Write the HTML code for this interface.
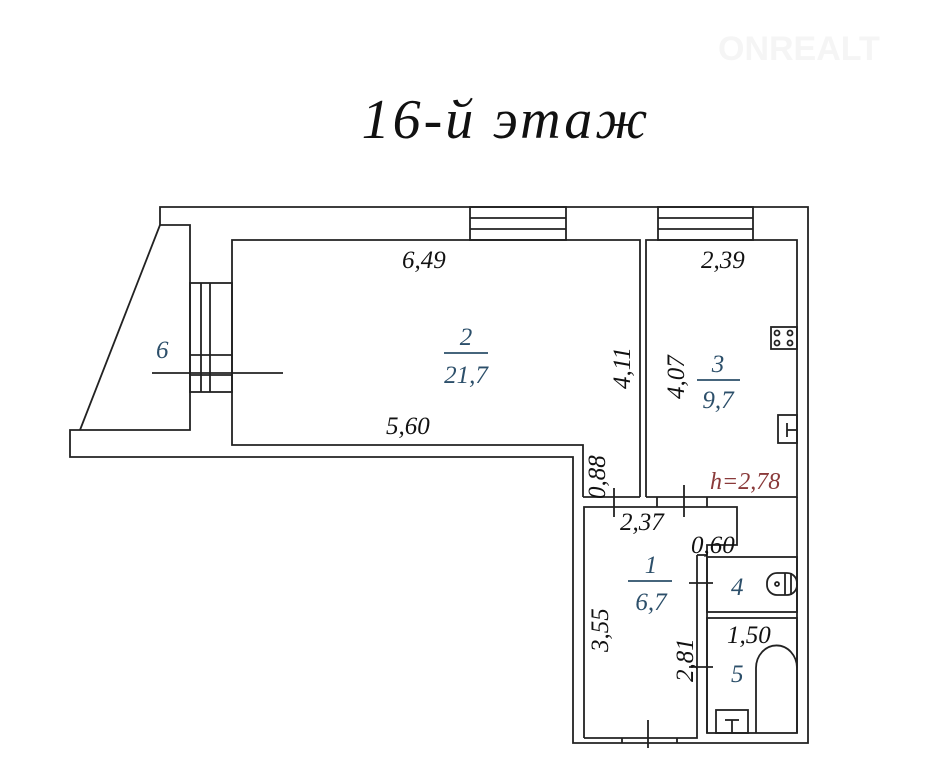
<!DOCTYPE html>
<html><head><meta charset="utf-8"><style>
html,body{margin:0;padding:0;background:#fff;width:942px;height:775px;overflow:hidden}
svg{display:block}
text{font-family:"Liberation Serif",serif;font-style:italic}
</style></head><body>
<svg width="942" height="775" viewBox="0 0 942 775" xmlns="http://www.w3.org/2000/svg">
<text x="718" y="60" font-size="34" fill="#f5f5f5" style="font-family:'Liberation Sans',sans-serif;font-style:normal;font-weight:bold">ONREALT</text>
<text x="506" y="138" text-anchor="middle" font-size="56" fill="#111" letter-spacing="3">16-й  этаж</text>
<g fill="none" stroke="#222" stroke-width="1.8">
<polyline points="160,225 160,207 808,207 808,743 573,743 573,457 70,457 70,430 190,430 190,225 160,225"/>
<line x1="160" y1="225" x2="80" y2="430"/>
<polyline points="583,497 583,445 232,445 232,240 640,240 640,497"/>
<rect x="190" y="283" width="42" height="109"/>
<line x1="201" y1="283" x2="201" y2="392"/><line x1="210" y1="283" x2="210" y2="392"/>
<line x1="190" y1="355" x2="232" y2="355"/><line x1="190" y1="375" x2="232" y2="375"/>
<line x1="152" y1="373" x2="283" y2="373"/>
<rect x="470" y="207" width="96" height="33"/>
<line x1="470" y1="218" x2="566" y2="218"/><line x1="470" y1="229" x2="566" y2="229"/>
<rect x="658" y="207" width="95" height="33"/>
<line x1="658" y1="218" x2="753" y2="218"/><line x1="658" y1="229" x2="753" y2="229"/>
<polyline points="646,497 646,240 797,240 797,497 646,497"/>
<polyline points="583,497 640,497"/>
<polyline points="584,738 584,507 737,507 737,545 707,545 707,733"/>
<polyline points="584,738 697,738 697,555"/>
<line x1="697" y1="555" x2="707" y2="555"/>
<line x1="797" y1="497" x2="797" y2="733"/>
<rect x="707" y="557" width="90" height="55"/>
<rect x="707" y="618" width="90" height="115"/>
<line x1="622" y1="738" x2="622" y2="743"/><line x1="677" y1="738" x2="677" y2="743"/>
<line x1="614" y1="488" x2="614" y2="517"/><line x1="684" y1="485" x2="684" y2="517"/>
<line x1="657" y1="497" x2="657" y2="507"/><line x1="707" y1="497" x2="707" y2="507"/>
<line x1="689" y1="583" x2="713" y2="583"/><line x1="689" y1="667" x2="713" y2="667"/>
<line x1="648" y1="720" x2="648" y2="748"/>
<rect x="771" y="327" width="26" height="22"/>
<circle cx="777" cy="333" r="2.5"/><circle cx="790" cy="333" r="2.5"/><circle cx="777" cy="343" r="2.5"/><circle cx="790" cy="343" r="2.5"/>
<rect x="778" y="415" width="19" height="28"/><line x1="787" y1="423" x2="787" y2="437"/><line x1="787" y1="430" x2="797" y2="430"/>
<rect x="767" y="573" width="30" height="22" rx="10"/><circle cx="777" cy="584" r="2"/><line x1="785" y1="573" x2="785" y2="595"/><line x1="791" y1="573" x2="791" y2="595"/>
<path d="M756,733 V668 A20,22 0 0 1 797,668"/>
<rect x="716" y="710" width="32" height="23"/><line x1="725" y1="720" x2="739" y2="720"/><line x1="732" y1="720" x2="732" y2="733"/>
<line x1="444" y1="353" x2="488" y2="353" stroke="#2c4f6a"/>
<line x1="697" y1="380" x2="740" y2="380" stroke="#2c4f6a"/>
<line x1="628" y1="581" x2="672" y2="581" stroke="#2c4f6a"/>
</g>
<g font-size="25" fill="#111">
<text x="402" y="268">6,49</text>
<text x="386" y="434">5,60</text>
<text x="701" y="268">2,39</text>
<text x="620" y="530">2,37</text>
<text x="691" y="553">0,60</text>
<text x="727" y="643">1,50</text>
<text transform="translate(630,389) rotate(-90)">4,11</text>
<text transform="translate(684,399) rotate(-90)">4,07</text>
<text transform="translate(605,499) rotate(-90)">0,88</text>
<text transform="translate(608,652) rotate(-90)">3,55</text>
<text transform="translate(693,682) rotate(-90)">2,81</text>
</g>
<g font-size="25" fill="#2c4f6a">
<text x="156" y="358">6</text>
<text x="466" y="345" text-anchor="middle">2</text>
<text x="466" y="383" text-anchor="middle">21,7</text>
<text x="718" y="372" text-anchor="middle">3</text>
<text x="718" y="408" text-anchor="middle">9,7</text>
<text x="651" y="573" text-anchor="middle">1</text>
<text x="651" y="610" text-anchor="middle">6,7</text>
<text x="731" y="595">4</text>
<text x="731" y="682">5</text>
</g>
<text x="710" y="489" font-size="24" fill="#8a3a3a">h=2,78</text>
</svg>
</body></html>
